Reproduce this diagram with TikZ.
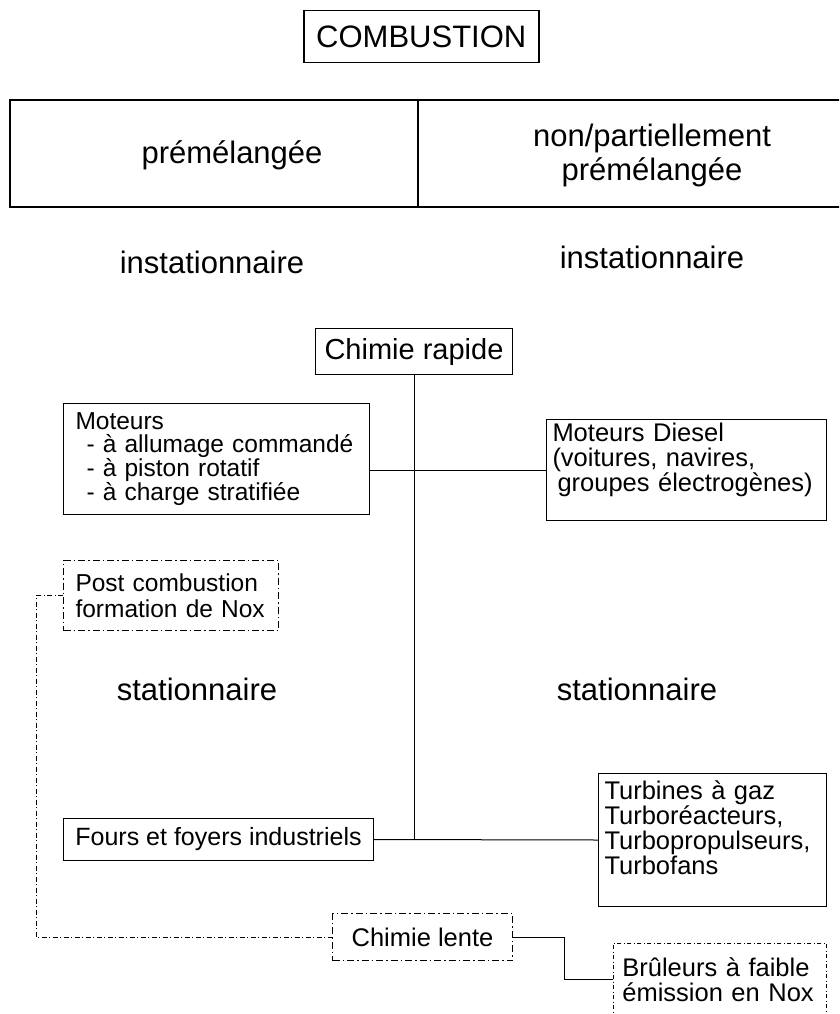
\documentclass[tikz,border=0pt]{standalone}
\usepackage{fontspec}
\setmainfont{Liberation Sans}
\usetikzlibrary{positioning}

\tikzset{
	boite/.style={draw, line width=1pt, anchor=north west, inner ysep=0pt, align=left, font=\fontsize{25.5}{25}\selectfont},
	boitept/.style={boite, dash pattern=on 7pt off 3pt on 1.5pt off 3pt},
	boitefine/.style={boite, line width=0.8pt, dash pattern=on 4pt off 2.5pt on 1pt off 2.5pt},
	chimie/.style={boite, align=center, inner xsep=0pt, font=\fontsize{29}{30}\selectfont},
	titre/.style={font=\fontsize{31}{34}\selectfont},
	lien/.style={line width=1pt},
	lienpt/.style={line width=0.8pt, dash pattern=on 5pt off 2.5pt on 1pt off 2.5pt},
}

\begin{document}
\begin{tikzpicture}[x=1pt, y=-1pt]
	\clip (0, 0) rectangle (839, 1014);

	\node[boite, titre, align=center, line width=1.5pt, minimum width=235, minimum height=52, inner xsep=0pt] (combustion) at (303, 10) {COMBUSTION};

	\draw[line width=1.3pt] (10, 100) rectangle (850, 207);
	\draw[line width=1.3pt] (418, 100) -- (418, 207);
	\node[titre] (premel) at (232, 155) {prémélangée};
	\node[titre, align=center] (nonpremel) at (652, 155) {non/partiellement\\prémélangée};

	\node[titre] (instaG) at (212, 262) {instationnaire};
	\node[titre] (instaD) at (652, 257) {instationnaire};

	\node[chimie, minimum width=197, minimum height=46] (rapide) at (315, 328) {Chimie rapide};

	\node[boite, font=\fontsize{24.5}{23}\selectfont, inner xsep=12pt, text width=282, minimum height=111] (moteurs) at (63, 403)
		{Moteurs\\\hspace*{11pt}- à allumage commandé\\\hspace*{11pt}- à piston rotatif\\\hspace*{11pt}- à charge stratifiée};
	\node[boite, inner xsep=6pt, text width=268, minimum height=101] (diesel) at (546, 419)
		{Moteurs Diesel\\(voitures, navires,\\\hspace*{5pt}groupes électrogènes)\\\mbox{}};

	\node[boitept, font=\fontsize{24.5}{26}\selectfont, inner xsep=12pt, text width=191, minimum height=70] (post) at (63, 560)
		{Post combustion\\formation de Nox};

	\node[titre] (statG) at (197, 689) {stationnaire};
	\node[titre] (statD) at (637, 689) {stationnaire};

	\node[boite, font=\fontsize{25}{25}\selectfont, align=center, inner xsep=0pt, minimum width=310, minimum height=42] (fours) at (63, 818)
		{Fours et foyers industriels};
	\node[boite, inner xsep=6pt, text width=216, minimum height=133] (turbines) at (598, 773)
		{Turbines à gaz\\Turboréacteurs,\\Turbopropulseurs,\\Turbofans\\\mbox{}};

	\node[chimie, boitept, minimum width=180, minimum height=47] (lente) at (332, 913) {Chimie lente};
	\node[boitefine, inner xsep=9pt, text width=195, minimum height=72] (bruleurs) at (613, 943)
		{Brûleurs à faible\\émission en Nox};

	\draw[lien] (rapide.south) -- (rapide.south |- fours.east);
	\draw[lien] (moteurs.east |- diesel.west) -- (diesel.west);
	\draw[lien] (fours.east) -- (turbines.west);
	\draw[lien] (lente.east) -- ++(51, 0) |- (bruleurs.west);
	\draw[lienpt] (post.west) -- ++(-27, 0) |- (lente.west);
\end{tikzpicture}
\end{document}
